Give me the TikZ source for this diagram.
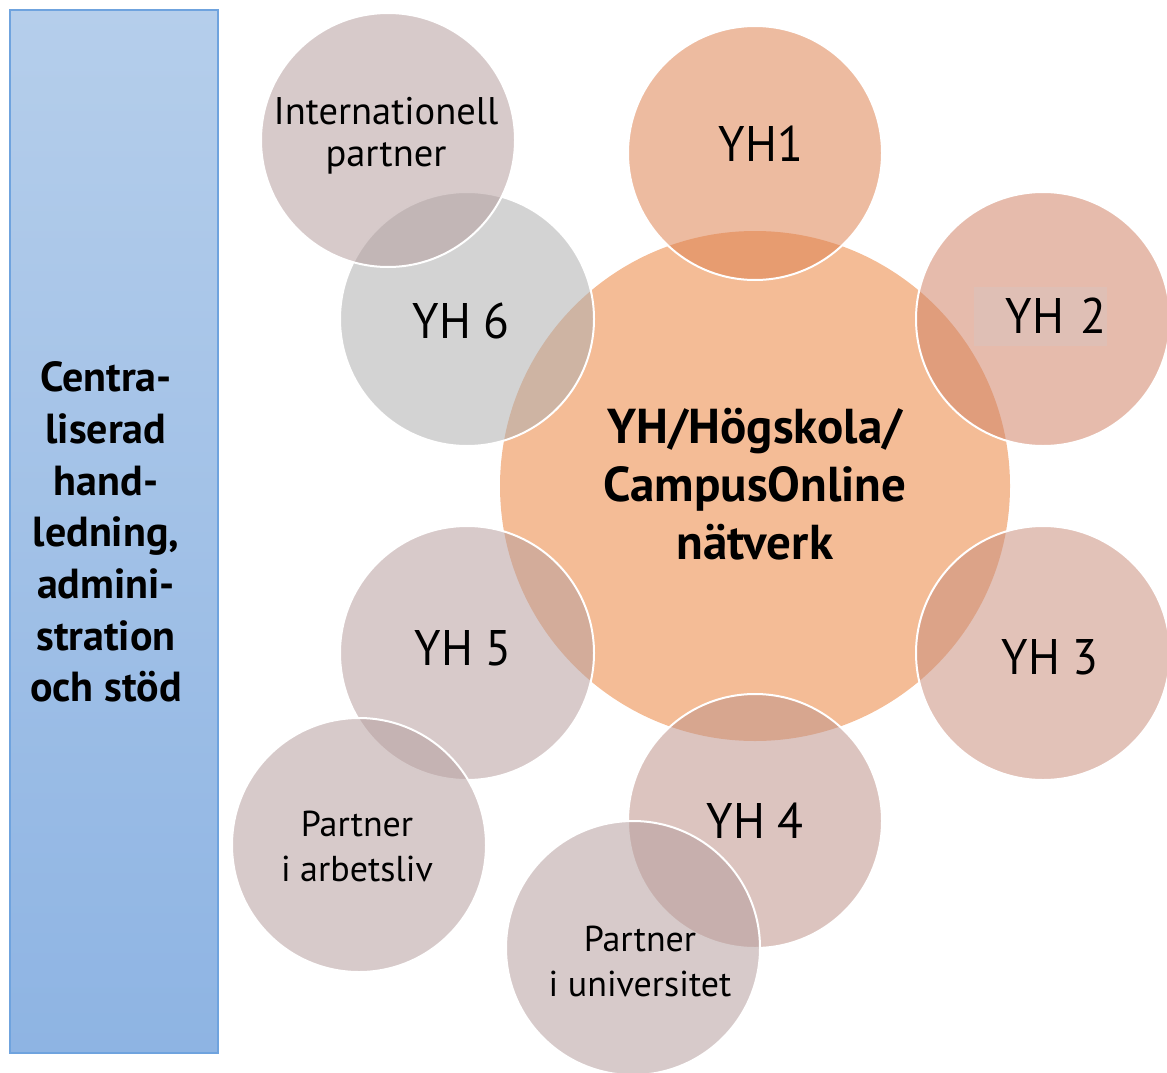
\documentclass[tikz,border=0pt]{standalone}
\usepackage{fontspec}
\setmainfont{PT Sans}
\newfontfamily\yhfont{PT Sans}[FakeStretch=0.95]
\usepackage{xcolor}
\usepackage{tikz}
\definecolor{paneltop}{HTML}{B5CEEB}
\definecolor{panelbot}{HTML}{8EB4E3}
\definecolor{paneledge}{HTML}{6FA3DE}
\definecolor{hubfill}{HTML}{F4BC96}
\definecolor{yhone}{HTML}{DE8352}
\definecolor{yhtwo}{HTML}{D18468}
\definecolor{yhtwobox}{HTML}{DFBFB5}
\definecolor{yhthree}{HTML}{CA8F7D}
\definecolor{yhfour}{HTML}{C0948B}
\definecolor{yhfive}{HTML}{B89F9F}
\definecolor{yhsix}{HTML}{AFAFAF}
\definecolor{partner}{HTML}{B69F9F}
\tikzset{
  panel/.style={draw=paneledge, line width=1.5pt, top color=paneltop, bottom color=panelbot, minimum width=208pt, minimum height=1043pt, inner sep=0pt},
  hub/.style={circle, fill=hubfill, minimum size=510pt, inner sep=0pt},
  ring/.style={circle, draw=white, line width=2pt, fill opacity=0.55, text opacity=1, minimum size=254pt, inner sep=0pt},
  lab/.style={text=black, font=\yhfont\fontsize{50}{56}\selectfont, inner sep=0pt},
  labs/.style={text=black, font=\fontsize{36}{45}\selectfont, align=center, inner sep=0pt},
  labhub/.style={text=black, font=\bfseries\fontsize{49}{58}\selectfont, align=center, inner sep=0pt},
  labside/.style={text=black, font=\bfseries\fontsize{42}{51.7}\selectfont, align=center, inner sep=0pt},
}
\begin{document}
\begin{tikzpicture}[x=1pt,y=-1pt]
  \useasboundingbox (0,0) rectangle (1167,1073);

  \node[panel] (panel) at (114,531.5) {};

  \node[hub] (hub) at (755,486) {};

  \node[ring, fill=yhone] (yh1) at (755,153) {};
  \node[ring, fill=yhtwo] (yh2) at (1043,319) {};
  \node[ring, fill=yhthree] (yh3) at (1043,653) {};
  \node[ring, fill=yhfour] (yh4) at (755,821) {};
  \node[ring, fill=yhfive] (yh5) at (467,653) {};
  \node[ring, fill=yhsix] (yh6) at (467,319) {};

  \node[ring, fill=partner] (intl) at (388,140) {};
  \node[ring, fill=partner] (work) at (359,845) {};
  \node[ring, fill=partner] (univ) at (633,948) {};

  % texts
  \node[labside] (sidetext) at (106,532) {Centra-\\liserad\\hand-\\ledning,\\admini-\\stration\\och stöd};
  \node[labhub] (hubtext) at (755,484) {YH/Högskola/\\CampusOnline\\nätverk};
  \node[lab] (yh1text) at (761,144) {YH1};
  \node[lab, fill=yhtwobox, text width=133pt, align=right, minimum height=59pt] (yh2text) at (1040,316) {YH 2};
  \node[lab] (yh3text) at (1050,657) {YH 3};
  \node[lab] (yh4text) at (755,821) {YH 4};
  \node[lab] (yh5text) at (463,648) {YH 5};
  \node[lab] (yh6text) at (461,321) {YH 6};
  \node[labs, font=\fontsize{38.5}{42}\selectfont] (intltext) at (386,136) {Internationell\\partner};
  \node[labs] (worktext) at (357,846) {Partner\\i arbetsliv};
  \node[labs] (univtext) at (640,961) {Partner\\i universitet};
\end{tikzpicture}
\end{document}
